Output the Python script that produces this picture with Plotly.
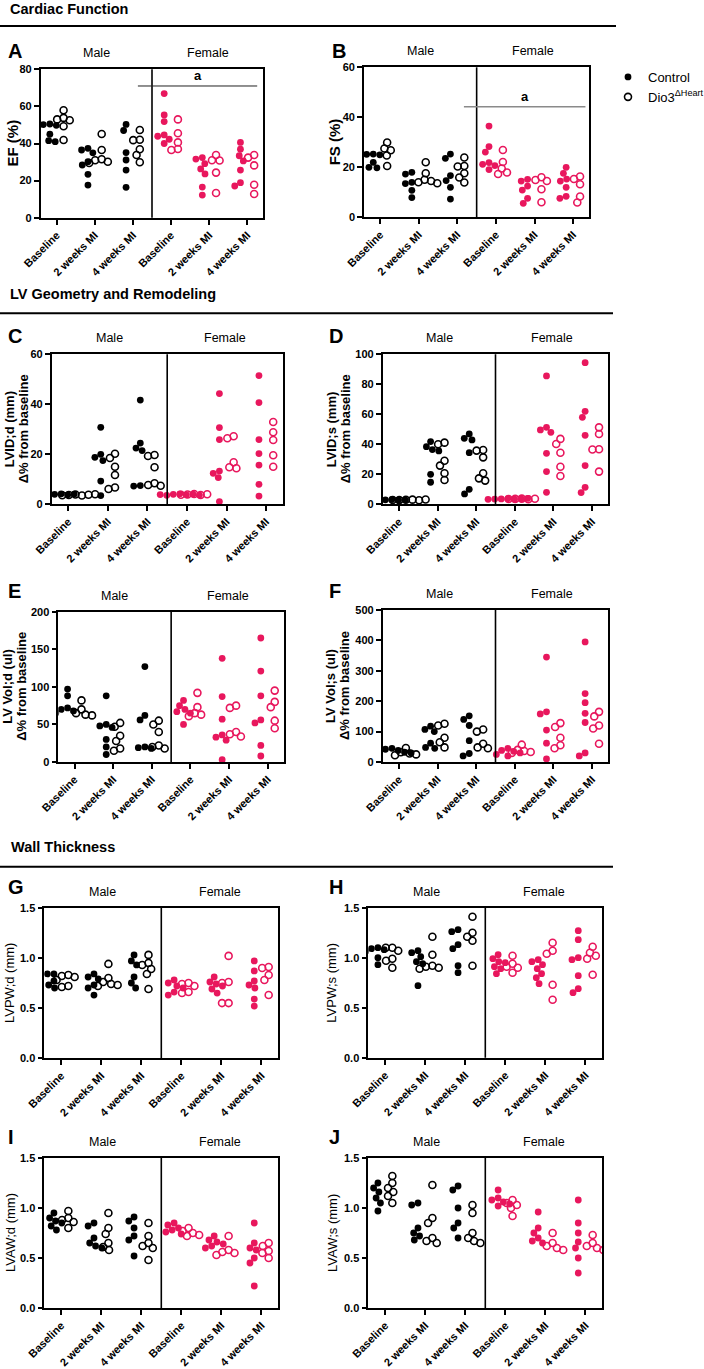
import math
import plotly.graph_objects as go

W, H = 704, 1369
PINK = "#E8175D"
FONT = "Liberation Sans"

categories = ["Baseline", "2 weeks MI", "4 weeks MI"]
sexes = ["Male", "Female"]
legend_names = ["Control", "Dio3<sup>ΔHeart</sup>"]

# ---- data: [Baseline, 2 weeks MI, 4 weeks MI] per group ----
A_male_ctrl = [[50.5, 50.2, 49.8, 45.0, 41.5, 41.0], [37.4, 36.5, 35.0, 30.2, 28.4, 23.4, 17.6], [50.3, 47.0, 35.1, 31.1, 25.7, 16.4]]
A_male_dio3 = [[57.9, 53.8, 53.0, 52.5, 49.3, 41.9], [45.1, 36.5, 31.5, 31.0, 30.2, 29.5], [47.3, 42.0, 41.8, 36.9, 33.8, 29.9]]
A_fem_ctrl = [[66.9, 55.4, 51.8, 44.6, 43.9, 42.3, 40.0], [32.4, 31.6, 29.1, 26.3, 23.6, 16.5, 12.2], [40.6, 36.9, 33.4, 30.6, 25.7, 18.9, 17.1]]
A_fem_dio3 = [[53.0, 45.5, 40.6, 37.0, 36.5], [33.8, 31.0, 30.8, 24.3, 13.3], [33.8, 32.4, 28.2, 17.8, 12.8]]

B_male_ctrl = [[25.3, 25.2, 25.0, 22.0, 20.0, 19.8], [18.0, 17.3, 14.0, 13.5, 10.8, 7.9], [25.3, 23.6, 16.7, 14.7, 12.0, 7.3]]
B_male_dio3 = [[29.9, 27.5, 26.8, 24.7, 20.5], [22.0, 17.6, 15.0, 14.5, 14.0, 13.6], [23.9, 20.5, 20.3, 17.6, 15.9, 13.9]]
B_fem_ctrl = [[36.5, 28.3, 26.1, 21.9, 21.2, 20.7, 19.1], [15.2, 14.5, 12.5, 10.9, 7.6, 5.6], [20.0, 17.6, 15.3, 14.5, 12.0, 8.4, 7.6]]
B_fem_dio3 = [[26.9, 22.1, 19.5, 17.9, 17.3], [16.0, 14.9, 14.5, 11.2, 6.0], [16.3, 15.3, 13.2, 8.3, 5.9]]

C_male_ctrl = [[4.2, 4.0, 3.8, 3.6, 4.1, 3.9], [30.8, 20.0, 18.8, 17.5, 9.3, 3.5], [41.7, 24.5, 22.5, 21.5, 7.5, 7.3]]
C_male_dio3 = [[3.9, 3.7, 3.5, 3.8, 3.6, 4.0], [20.2, 18.5, 15.0, 11.7, 6.7, 6.1], [19.7, 19.3, 14.8, 8.4, 7.7, 7.4]]
C_fem_ctrl = [[4.2, 4.0, 3.8, 3.6, 4.1, 3.9, 3.7], [44.3, 30.7, 25.9, 13.3, 12.4, 10.7, 1.1], [51.5, 40.7, 25.9, 20.3, 15.7, 8.0, 3.3]]
C_fem_dio3 = [[4.1, 3.9, 3.7, 4.0, 3.8], [27.2, 26.4, 16.8, 14.8, 14.4], [32.9, 28.8, 25.7, 19.6, 15.0]]

D_male_ctrl = [[3.2, 3.0, 2.8, 2.9, 3.1, 2.7], [41.8, 38.4, 36.5, 35.6, 20.0, 14.7], [46.9, 44.0, 42.9, 34.4, 10.0, 6.9]]
D_male_dio3 = [[3.0, 2.8, 3.1, 2.9, 2.7, 3.2], [41.1, 40.0, 29.0, 25.8, 20.7, 16.2], [36.2, 35.8, 31.3, 20.7, 17.3, 15.8]]
D_fem_ctrl = [[3.8, 3.6, 3.4, 3.7, 3.5, 3.9, 3.3], [85.6, 51.3, 49.6, 48.0, 34.0, 21.8, 8.0], [94.4, 62.0, 58.0, 46.0, 25.8, 11.3, 7.8]]
D_fem_dio3 = [[3.8, 3.6, 3.4, 3.7, 3.5], [43.6, 40.2, 34.4, 25.0, 18.9], [51.3, 46.9, 36.7, 36.5, 21.8]]

E_male_ctrl = [[97, 88, 72, 70, 68, 65], [88, 50, 48, 46, 30, 20, 10], [127, 62, 56, 20, 19, 18]]
E_male_dio3 = [[82, 70, 65, 63, 62], [52, 47, 35, 28, 18, 15], [55, 50, 40, 22, 20, 18]]
E_fem_ctrl = [[82, 75, 70, 67, 65, 50], [138, 87, 57, 36, 33, 29, 3], [165, 121, 88, 56, 52, 22, 8]]
E_fem_dio3 = [[92, 73, 65, 63, 61], [75, 72, 40, 37, 34], [95, 80, 73, 55, 45]]

F_male_ctrl = [[45, 42, 38, 35, 32, 30], [118, 107, 100, 62, 48, 45], [152, 140, 120, 70, 28, 20]]
F_male_dio3 = [[46, 32, 28, 25, 22], [126, 120, 80, 65, 48], [107, 100, 60, 48, 45]]
F_fem_ctrl = [[45, 38, 35, 30, 25, 20], [345, 165, 158, 105, 62, 10], [395, 225, 195, 160, 130, 30, 20]]
F_fem_dio3 = [[57, 40, 36, 33, 30], [128, 115, 80, 55, 45], [165, 150, 120, 110, 60]]

G_male_ctrl = [[0.84, 0.84, 0.77, 0.73, 0.70], [0.84, 0.81, 0.79, 0.73, 0.70, 0.63], [1.03, 0.97, 0.93, 0.81, 0.75, 0.70]]
G_male_dio3 = [[0.83, 0.82, 0.81, 0.78, 0.72, 0.71], [0.94, 0.80, 0.76, 0.74, 0.73, 0.72], [1.03, 0.95, 0.93, 0.89, 0.84, 0.69]]
G_fem_ctrl = [[0.78, 0.75, 0.72, 0.70, 0.66, 0.63], [0.81, 0.76, 0.74, 0.72, 0.69, 0.65], [0.97, 0.87, 0.77, 0.73, 0.70, 0.59, 0.52]]
G_fem_dio3 = [[0.75, 0.74, 0.72, 0.66, 0.65], [1.02, 0.76, 0.75, 0.55, 0.55], [0.91, 0.90, 0.83, 0.78, 0.63]]

H_male_ctrl = [[1.10, 1.09, 1.08, 1.06, 1.00, 0.93], [1.07, 1.05, 1.01, 0.96, 0.94, 0.72], [1.28, 1.26, 1.13, 1.09, 0.92, 0.85]]
H_male_dio3 = [[1.10, 1.10, 1.07, 0.99, 0.97, 0.90], [1.21, 1.03, 0.92, 0.91, 0.90, 0.89], [1.41, 1.25, 1.21, 1.17, 0.92]]
H_fem_ctrl = [[1.03, 0.99, 0.96, 0.95, 0.91, 0.89, 0.84], [0.98, 0.96, 0.93, 0.89, 0.84, 0.80, 0.74], [1.27, 1.18, 1.00, 0.98, 0.82, 0.69, 0.65]]
H_fem_dio3 = [[1.02, 0.94, 0.91, 0.90, 0.85], [1.15, 1.07, 1.04, 0.73, 0.58], [1.11, 1.05, 1.02, 0.99, 0.83]]

I_male_ctrl = [[0.95, 0.90, 0.87, 0.85, 0.82, 0.78], [0.85, 0.82, 0.70, 0.65, 0.62, 0.60], [0.91, 0.87, 0.80, 0.72, 0.68, 0.52]]
I_male_dio3 = [[0.97, 0.90, 0.88, 0.86, 0.80], [0.95, 0.80, 0.74, 0.65, 0.61, 0.58], [0.85, 0.72, 0.65, 0.62, 0.60, 0.48]]
I_fem_ctrl = [[0.85, 0.83, 0.80, 0.78, 0.76, 0.74], [0.72, 0.68, 0.66, 0.64, 0.62, 0.60], [0.85, 0.65, 0.60, 0.58, 0.50, 0.45, 0.22]]
I_fem_dio3 = [[0.80, 0.77, 0.75, 0.73, 0.72], [0.72, 0.58, 0.56, 0.55, 0.53], [0.65, 0.62, 0.57, 0.55, 0.50]]

J_male_ctrl = [[1.25, 1.20, 1.16, 1.10, 1.05, 0.97], [1.05, 1.03, 0.80, 0.75, 0.72, 0.68], [1.22, 1.18, 1.00, 0.85, 0.80, 0.70]]
J_male_dio3 = [[1.32, 1.25, 1.20, 1.16, 1.12, 1.05], [1.23, 0.90, 0.85, 0.70, 0.67, 0.65], [1.03, 0.95, 0.75, 0.70, 0.67, 0.65]]
J_fem_ctrl = [[1.18, 1.10, 1.08, 1.06, 1.04, 1.02], [0.96, 0.80, 0.75, 0.70, 0.67, 0.65], [1.08, 0.85, 0.75, 0.66, 0.60, 0.50, 0.35]]
J_fem_dio3 = [[1.08, 1.05, 1.03, 1.00, 0.92], [0.75, 0.65, 0.62, 0.60, 0.58], [0.73, 0.65, 0.62, 0.60, 0.58]]

# significance bars: (x0, x1, y, label)
A_sig = (2.13, 5.26, 71, "a")
B_sig = (2.17, 5.32, 44.2, "a")

# ---- panel layout: letter, y title, y range, box in px (left, top, right, bottom) ----
panels = [
    dict(letter="A", ytitle="EF (%)", data=(A_male_ctrl, A_male_dio3, A_fem_ctrl, A_fem_dio3), ymax=80, dtick=20, fmt="",
         box=(40.7, 69.3, 263.3, 217.7), lpos=(6, 51), tx=[12], bold=True, sig=A_sig, sigcol="#222", sigw=1.0),
    dict(letter="B", ytitle="FS (%)", data=(B_male_ctrl, B_male_dio3, B_fem_ctrl, B_fem_dio3), ymax=60, dtick=20, fmt="",
         box=(364, 67.3, 589.3, 217.3), lpos=(330, 51), tx=[334], bold=True, sig=B_sig, sigcol="#8a8a8a", sigw=1.5),
    dict(letter="C", ytitle=["LVID;d (mm)", "Δ% from baseline"], data=(C_male_ctrl, C_male_dio3, C_fem_ctrl, C_fem_dio3), ymax=60, dtick=20, fmt="",
         box=(51.7, 354.3, 282.7, 504.3), lpos=(6, 336), tx=[9, 23], bold=True),
    dict(letter="D", ytitle=["LVID;s (mm)", "Δ% from baseline"], data=(D_male_ctrl, D_male_dio3, D_fem_ctrl, D_fem_dio3), ymax=100, dtick=20, fmt="",
         box=(382.7, 354.3, 608.3, 504.3), lpos=(327, 336), tx=[331, 345], bold=True),
    dict(letter="E", ytitle=["LV Vol;d (ul)", "Δ% from baseline"], data=(E_male_ctrl, E_male_dio3, E_fem_ctrl, E_fem_dio3), ymax=200, dtick=50, fmt="",
         box=(58.3, 611.7, 284, 762), lpos=(6, 591), tx=[8, 22], bold=True),
    dict(letter="F", ytitle=["LV Vol;s (ul)", "Δ% from baseline"], data=(F_male_ctrl, F_male_dio3, F_fem_ctrl, F_fem_dio3), ymax=500, dtick=100, fmt="",
         box=(382.7, 610, 608.3, 762), lpos=(327, 591), tx=[330, 344], bold=True),
    dict(letter="G", ytitle="LVPW;d (mm)", data=(G_male_ctrl, G_male_dio3, G_fem_ctrl, G_fem_dio3), ymax=1.5, dtick=0.5, fmt=".1f",
         box=(44.3, 907.7, 278.3, 1058.3), lpos=(6, 887), tx=[10], bold=False),
    dict(letter="H", ytitle="LVPW;s (mm)", data=(H_male_ctrl, H_male_dio3, H_fem_ctrl, H_fem_dio3), ymax=1.5, dtick=0.5, fmt=".1f",
         box=(368.3, 907.7, 602.3, 1057.7), lpos=(327, 887), tx=[332], bold=False),
    dict(letter="I", ytitle="LVAW;d (mm)", data=(I_male_ctrl, I_male_dio3, I_fem_ctrl, I_fem_dio3), ymax=1.5, dtick=0.5, fmt=".1f",
         box=(44.3, 1158, 278.3, 1308), lpos=(6, 1137), tx=[10], bold=False),
    dict(letter="J", ytitle="LVAW;s (mm)", data=(J_male_ctrl, J_male_dio3, J_fem_ctrl, J_fem_dio3), ymax=1.5, dtick=0.5, fmt=".1f",
         box=(368.3, 1158, 602.3, 1308), lpos=(327, 1137), tx=[332], bold=False),
]

sections = [("Cardiac Function", 8, 9, 26, 616), ("LV Geometry and Remodeling", 8, 294, 313.3, 613),
            ("Wall Thickness", 9, 847, 866.7, 613)]

XMIN, XMAX = -0.42, 5.42
GROUP_OFF = 0.18
DIAM = 6.6


def px(x):
    return x / W


def py(y):
    return 1 - y / H


def swarm(vals, ppu_y, ppu_x):
    """Deterministic beeswarm: smallest horizontal shift avoiding overlap."""
    placed = []
    offs = []
    for v in vals:
        y = v * ppu_y
        cands = [0.0]
        for (qx, qy) in placed:
            dy = abs(qy - y)
            if dy < DIAM:
                dx = math.sqrt(DIAM ** 2 - dy ** 2)
                cands += [qx + dx, qx - dx]
        cands.sort(key=lambda c: (abs(c), c))
        chosen = 0.0
        for c in cands:
            if all(math.hypot(c - qx, y - qy) >= DIAM - 1e-6 for (qx, qy) in placed):
                chosen = c
                break
        placed.append((chosen, y))
        offs.append(chosen / ppu_x)
    return offs


fig = go.Figure()
annotations = []
shapes = []
layout_axes = {}

for i, p in enumerate(panels, start=1):
    xa = "x" if i == 1 else f"x{i}"
    ya = "y" if i == 1 else f"y{i}"
    l, t, r, b = p["box"]
    ppu_x = (r - l) / (XMAX - XMIN)
    ppu_y = (b - t) / p["ymax"]
    groups = p["data"]
    for gi, series in enumerate(groups):
        sex = gi // 2
        dio = gi % 2
        color = "black" if sex == 0 else PINK
        xs, ys = [], []
        for ti, vals in enumerate(series):
            center = ti + 3 * sex + (GROUP_OFF if dio else -GROUP_OFF)
            offs = swarm(vals, ppu_y, ppu_x)
            xs += [center + o for o in offs]
            ys += list(vals)
        fig.add_trace(go.Scatter(
            x=xs, y=ys, mode="markers", xaxis=xa, yaxis=ya,
            marker=dict(symbol="circle-open" if dio else "circle", size=7 if dio else 6.8,
                        color=color, line=dict(width=1.6 if dio else 0, color=color)),
            name=legend_names[dio], showlegend=(i == 1 and sex == 0), hoverinfo="y",
        ))

    key = "" if i == 1 else str(i)
    tickfont = dict(family=FONT, size=11, color="black", weight="bold")
    layout_axes[f"xaxis{key}"] = dict(
        domain=[px(l), px(r)], anchor=ya, range=[XMIN, XMAX],
        tickmode="array", tickvals=list(range(6)), ticktext=categories * 2,
        tickangle=-45, ticks="outside", ticklen=5, tickwidth=1.6, tickcolor="black",
        showline=True, linecolor="black", linewidth=1.6, mirror=True,
        showgrid=False, zeroline=False, tickfont=tickfont, fixedrange=True,
    )
    layout_axes[f"yaxis{key}"] = dict(
        domain=[py(b), py(t)], anchor=xa, range=[0, p["ymax"]],
        tickmode="linear", tick0=0, dtick=p["dtick"], tickformat=p["fmt"],
        ticks="outside", ticklen=5, tickwidth=1.6, tickcolor="black",
        showline=True, linecolor="black", linewidth=1.6, mirror=True,
        showgrid=False, zeroline=False, tickfont=tickfont, fixedrange=True,
    )

    # divider between Male and Female
    shapes.append(dict(type="line", xref=xa, yref=f"{ya} domain", x0=2.5, x1=2.5, y0=0, y1=1,
                       line=dict(color="black", width=1.6)))

    # panel letter
    annotations.append(dict(text=p["letter"], x=px(p["lpos"][0]), y=py(p["lpos"][1]), xref="paper", yref="paper",
                            xanchor="left", yanchor="middle", showarrow=False,
                            font=dict(family=FONT, size=20, color="black", weight="bold")))
    # Male / Female headers
    mid = l + (r - l) * (2.5 - XMIN) / (XMAX - XMIN)
    for si, sx in enumerate(sexes):
        cx = (l + mid) / 2 if si == 0 else (mid + r) / 2
        annotations.append(dict(text=sx, x=px(cx), y=py(t - 16), xref="paper", yref="paper",
                                xanchor="center", yanchor="middle", showarrow=False,
                                font=dict(family=FONT, size=12.5, color="black")))
    # y title
    titles = p["ytitle"] if isinstance(p["ytitle"], list) else [p["ytitle"]]
    for tt, tx in zip(titles, p["tx"]):
        annotations.append(dict(text=tt, x=px(tx), y=py((t + b) / 2), xref="paper", yref="paper",
                                xanchor="center", yanchor="middle", textangle=-90, showarrow=False,
                                font=dict(family=FONT, size=15 if len(titles) == 1 and p["bold"] else 13,
                                          color="black", weight="bold" if p["bold"] else "normal")))
    # significance bar
    if "sig" in p:
        x0, x1, yv, lab = p["sig"]
        shapes.append(dict(type="line", xref=xa, yref=ya, x0=x0, x1=x1, y0=yv, y1=yv,
                           line=dict(color=p["sigcol"], width=p["sigw"])))
        annotations.append(dict(text=lab, x=(x0 + x1) / 2, y=yv, xref=xa, yref=ya, yshift=10,
                                xanchor="center", yanchor="middle", showarrow=False,
                                font=dict(family=FONT, size=13, color="black", weight="bold")))

for text, x, y, ly, lx1 in sections:
    annotations.append(dict(text=text, x=px(x), y=py(y), xref="paper", yref="paper",
                            xanchor="left", yanchor="middle", showarrow=False,
                            font=dict(family=FONT, size=14.5, color="black", weight="bold")))
    shapes.append(dict(type="line", xref="paper", yref="paper", x0=0, x1=px(lx1), y0=py(ly), y1=py(ly),
                       line=dict(color="black", width=2)))

fig.update_layout(
    width=W, height=H, margin=dict(l=0, r=0, t=0, b=0, autoexpand=False),
    paper_bgcolor="white", plot_bgcolor="white",
    font=dict(family=FONT, color="black"),
    annotations=annotations, shapes=shapes,
    legend=dict(x=px(608), y=py(62), xanchor="left", yanchor="top", bgcolor="rgba(0,0,0,0)",
                font=dict(family=FONT, size=13, color="black"), itemwidth=30, tracegroupgap=2),
    **layout_axes,
)

fig.write_html("out.html")
